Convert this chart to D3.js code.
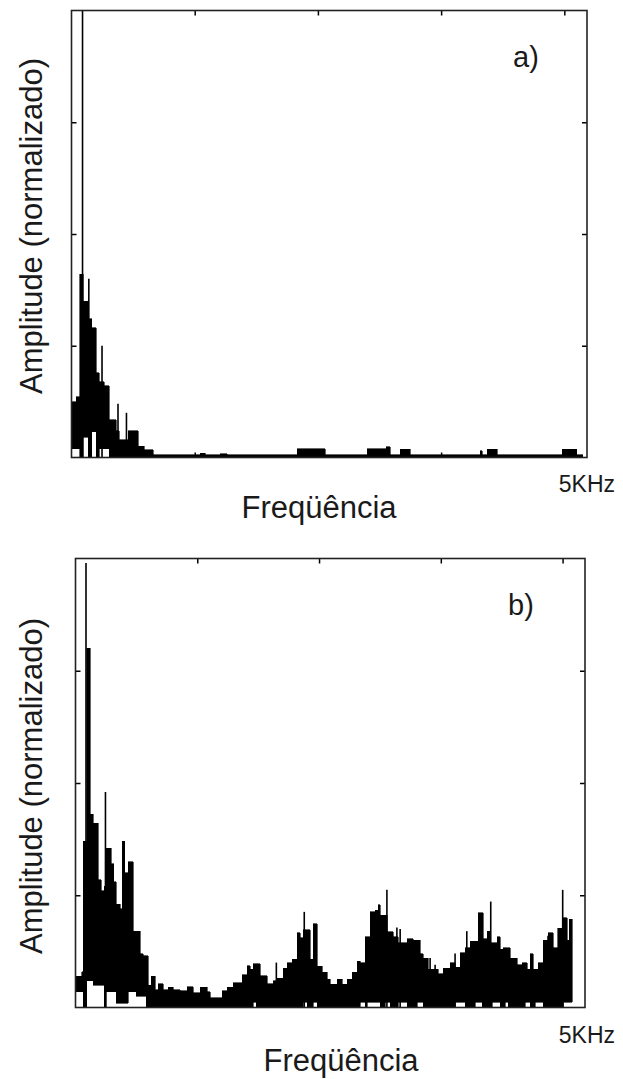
<!DOCTYPE html>
<html>
<head>
<meta charset="utf-8">
<script src="https://cdn.jsdelivr.net/npm/d3@7"></script>
<style>
body { margin: 0; background: #fff; }
text { font-family: "Liberation Sans", Arial, sans-serif; fill: #1a1a1a; }
</style>
</head>
<body>
<script>
// spectrum a): bin start (Hz), upper and lower envelope (normalized)
const freqA = [0, 48, 78, 116, 165, 194, 242, 271, 320, 368, 436, 465, 552, 649, 707, 795,
    1250, 1298, 1444, 1512, 2190, 2461, 2868, 3052, 3091, 3188, 3285, 3963, 3983, 4031, 4128, 4758, 4903];
const hiA = [.125, .136, .41, .35, .31, .29, .19, .17, .16, .085, .06, .04, .06, .025, .017, .006,
    .01, .006, .008, .006, .02, .006, .02, .024, .006, .018, .006, .015, .006, .018, .006, .018, .006];
const loA = [.02, .02, 0, .045, 0, .058, 0, .02, .02, 0, 0, 0, 0, 0, 0, 0,
    0, 0, 0, 0, 0, 0, 0, 0, 0, 0, 0, 0, 0, 0, 0, 0, 0];
const endA = 4961;
const spikeFreqA = [107, 168, 296, 451, 533];
const spikeAmpA = [1.0, .40, .25, .12, .10];

// spectrum b)
const freqB = [0, 59, 78, 108, 144, 176, 225, 255, 284, 304, 353, 373, 402, 441, 461, 485, 520, 569, 598, 637,
    667, 696, 716, 745, 784, 814, 863, 912, 961, 1029, 1098, 1157, 1225, 1294, 1324, 1441, 1490, 1549, 1637, 1686,
    1716, 1745, 1775, 1814, 1882, 1941, 1980, 2039, 2078, 2127, 2176, 2206, 2235, 2275, 2304, 2333, 2373, 2422, 2471, 2500,
    2569, 2618, 2667, 2716, 2765, 2794, 2843, 2863, 2892, 2941, 2971, 2990, 3039, 3059, 3088, 3118, 3167, 3255, 3314, 3353,
    3382, 3412, 3461, 3559, 3608, 3676, 3725, 3775, 3824, 3873, 3922, 3951, 3990, 4000, 4039, 4069, 4088, 4137, 4167, 4196,
    4216, 4245, 4265, 4333, 4382, 4412, 4431, 4461, 4490, 4510, 4539, 4588, 4637, 4686, 4735, 4784, 4824, 4843];
const hiB = [.07, .08, .37, .80, .43, .41, .285, .26, .27, .355, .32, .28, .23, .22, .37, .30, .325, .17, .17, .12,
    .115, .115, .05, .07, .04, .053, .04, .045, .04, .037, .046, .033, .045, .035, .022, .037, .045, .055, .073, .093,
    .085, .097, .097, .071, .053, .06, .065, .087, .10, .108, .167, .155, .173, .173, .108, .187, .092, .078, .063, .052,
    .063, .052, .063, .078, .103, .10, .158, .158, .213, .217, .229, .205, .205, .169, .169, .158, .144, .153, .15, .15,
    .12, .11, .085, .075, .087, .10, .09, .122, .133, .147, .147, .211, .211, .153, .17, .144, .144, .158, .13, .133,
    .133, .133, .11, .095, .10, .10, .085, .12, .085, .085, .10, .15, .166, .133, .177, .20, .15, .197];
const loB = [.035, .035, 0, .06, .06, .05, .05, .05, 0, .035, .035, .035, .01, .01, .01, .01, .035, .035, .025, .025,
    .025, 0, 0, 0, 0, 0, 0, 0, 0, 0, 0, 0, 0, 0, 0, 0, 0, 0, 0, 0,
    0, .012, 0, 0, 0, 0, 0, 0, 0, 0, 0, 0, .012, 0, 0, .012, 0, 0, 0, 0,
    0, 0, 0, 0, 0, .012, 0, .012, .012, .012, .012, 0, .012, .012, 0, 0, .012, 0, 0, .012,
    .012, 0, 0, 0, 0, 0, .012, .012, 0, 0, .012, .012, 0, 0, 0, 0, .012, .012, 0, 0,
    .012, 0, 0, 0, 0, .012, .012, 0, 0, .012, .012, 0, 0, 0, 0, .012, .012, .012];
const endB = 4873;
const spikeFreqB = [103, 294, 1971, 2245, 3056, 3154, 3186, 3480, 3529, 3725, 3840, 4075, 4637, 4781];
const spikeAmpB = [.99, .48, .10, .213, .262, .178, .175, .11, .095, .12, .17, .236, .16, .262];

// axis ticks
const xTicks = [1195, 2390, 3585, 4780];
const yTicks = [0.25, 0.5, 0.75];
const xMax = 5000;

const width = 623;
const height = 1079;

let svg = d3.select("body").append("svg")
    .attr("width", width)
    .attr("height", height)
    .style("background", "#fff");

function drawPanel(p) {
    let g = svg.append("g");

    let xScale = d3.scaleLinear().domain([0, xMax]).range([p.left, p.right]);
    let yScale = d3.scaleLinear().domain([0, 1]).range([p.bottom, p.top]);

    let bins = p.freq.map((f, i) => ({ f: f, hi: p.hi[i], lo: p.lo[i] }));
    bins.push({ f: p.end, hi: p.hi[p.hi.length - 1], lo: p.lo[p.lo.length - 1] });

    let area = d3.area()
        .curve(d3.curveStepAfter)
        .x(d => xScale(d.f))
        .y0(d => yScale(d.lo))
        .y1(d => yScale(d.hi));

    g.append("path")
        .datum(bins)
        .attr("d", area)
        .attr("fill", "#000")
        .attr("stroke", "#000")
        .attr("stroke-width", 0.6)
        .attr("shape-rendering", "crispEdges");

    g.selectAll(".spike")
        .data(p.spikeFreq.map((f, i) => ({ f: f, a: p.spikeAmp[i] })))
        .enter()
        .append("line")
        .attr("class", "spike")
        .attr("x1", d => xScale(d.f))
        .attr("x2", d => xScale(d.f))
        .attr("y1", yScale(0))
        .attr("y2", d => yScale(d.a))
        .attr("stroke", "#000")
        .attr("stroke-width", 1.6);

    // inward ticks on all four sides
    let axes = [
        [d3.axisTop(xScale).tickValues(xTicks), `translate(0,${p.top})`],
        [d3.axisBottom(xScale).tickValues(xTicks), `translate(0,${p.bottom})`],
        [d3.axisLeft(yScale).tickValues(yTicks), `translate(${p.left},0)`],
        [d3.axisRight(yScale).tickValues(yTicks), `translate(${p.right},0)`]
    ];
    axes.forEach(a => {
        let ax = g.append("g")
            .attr("transform", a[1])
            .call(a[0].tickSize(-5).tickFormat(""));
        ax.select(".domain").remove();
        ax.selectAll("line").attr("stroke", "#000").attr("stroke-width", 1.5);
    });

    g.append("rect")
        .attr("x", p.left)
        .attr("y", p.top)
        .attr("width", p.right - p.left)
        .attr("height", p.bottom - p.top)
        .attr("fill", "none")
        .attr("stroke", "#222")
        .attr("stroke-width", 1.6);

    g.append("text")
        .attr("x", p.tagX)
        .attr("y", p.tagY)
        .style("font-size", "29px")
        .text(p.tag);

    g.append("text")
        .attr("x", 615)
        .attr("y", p.khzY)
        .attr("text-anchor", "end")
        .style("font-size", "23px")
        .text("5KHz");

    g.append("text")
        .attr("x", p.xlabelX)
        .attr("y", p.xlabelY)
        .attr("text-anchor", "middle")
        .style("font-size", "31px")
        .text("Freqüência");

    g.append("text")
        .attr("text-anchor", "middle")
        .attr("transform", `translate(42, ${p.ylabelY}) rotate(-90)`)
        .style("font-size", "31px")
        .text("Amplitude (normalizado)");
}

drawPanel({
    left: 71.5, right: 587, top: 10.5, bottom: 457.5,
    freq: freqA, hi: hiA, lo: loA, end: endA,
    spikeFreq: spikeFreqA, spikeAmp: spikeAmpA,
    tag: "a)", tagX: 513, tagY: 67,
    khzY: 492, xlabelX: 319, xlabelY: 518, ylabelY: 226
});

drawPanel({
    left: 75.5, right: 585, top: 558.5, bottom: 1007.5,
    freq: freqB, hi: hiB, lo: loB, end: endB,
    spikeFreq: spikeFreqB, spikeAmp: spikeAmpB,
    tag: "b)", tagX: 508, tagY: 615,
    khzY: 1043, xlabelX: 341, xlabelY: 1071, ylabelY: 786
});
</script>
</body>
</html>
